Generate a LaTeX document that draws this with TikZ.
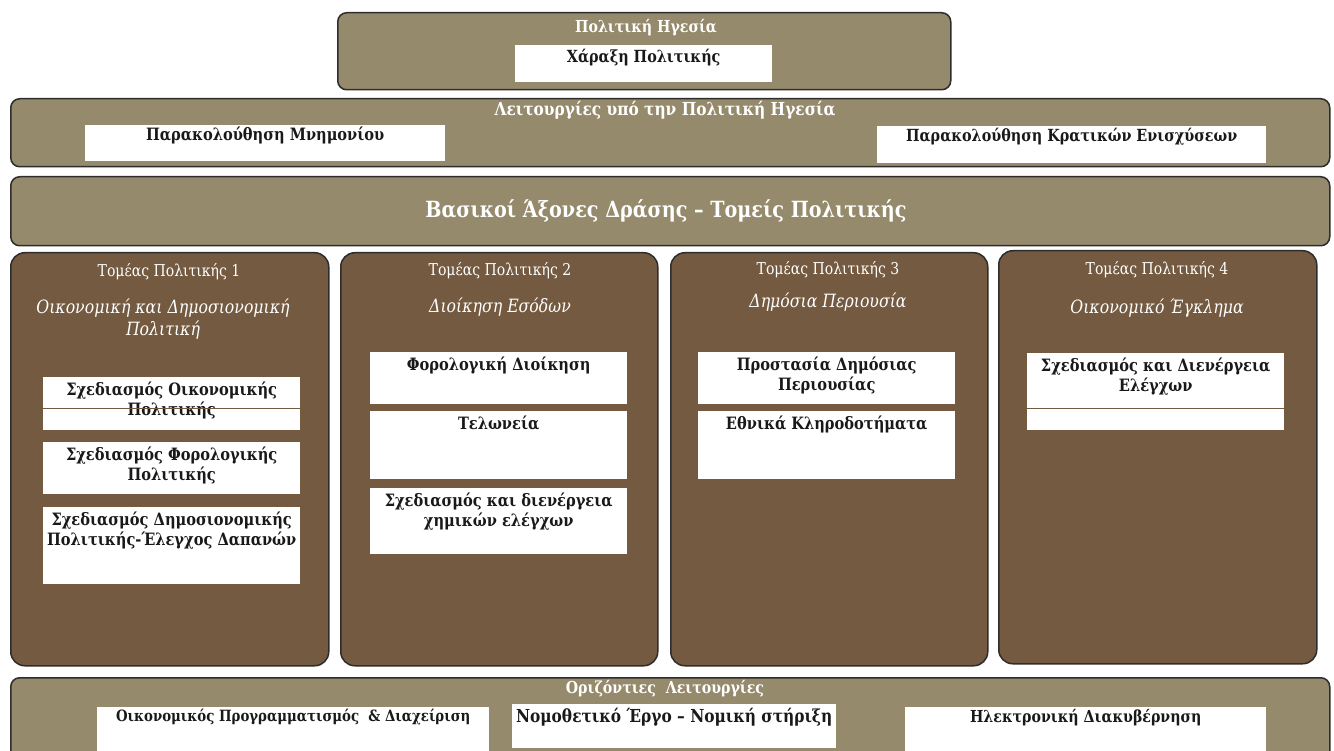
\documentclass[tikz,border=0pt]{standalone}
\usepackage{fontspec}
\setmainfont{DejaVu Serif}[FakeStretch=0.86]
\definecolor{light}{RGB}{150,138,108}
\definecolor{brownc}{RGB}{116,90,64}
\definecolor{edge}{RGB}{45,45,45}
\begin{document}
\begin{tikzpicture}[x=1pt,y=-1pt,
  panel/.style={draw=edge, line width=1.5pt, fill=light, rounded corners=9pt, anchor=north west, inner sep=0},
  sector/.style={draw=edge, line width=1.5pt, fill=brownc, rounded corners=14pt, anchor=north west, inner sep=0},
  wbox/.style={fill=white, anchor=north west, inner sep=0},
  wtitle/.style={text=white, font=\fontsize{14}{16}\selectfont\bfseries},
  bigtitle/.style={text=white, font=\fontsize{22.3}{25}\selectfont\bfseries},
  btxt/.style={text=black!90, align=center, anchor=north, inner sep=5pt, font=\fontsize{17}{19.5}\selectfont\bfseries},
  chead/.style={text=white, font=\fontsize{16.3}{18}\selectfont},
  cital/.style={text=white, align=center, font=\fontsize{18.3}{22}\selectfont\itshape},
  sepline/.style={draw=brownc, line width=1pt}]
\useasboundingbox (0,0) rectangle (1334,751);
\fill[white] (0,0) rectangle (1334,751);

% Top: political leadership
\node[panel, minimum width=613, minimum height=77] (lead) at (337,12) {};
\node[wtitle, font=\fontsize{16.5}{18}\selectfont\bfseries] (leadT) at (646,28) {Πολιτική Ηγεσία};
\node[wbox, minimum width=257, minimum height=37] (policy) at (515,45) {};
\node[btxt, inner sep=3.5pt, font=\fontsize{16.7}{19}\selectfont\bfseries] (policyT) at (policy.north) {Χάραξη Πολιτικής};

% Row 2
\node[panel, minimum width=1319, minimum height=68] (funcs) at (10,98) {};
\node[wtitle, font=\fontsize{17.9}{20}\selectfont\bfseries] (funcsT) at (665,110) {Λειτουργίες υπό την Πολιτική Ηγεσία};
\node[wbox, minimum width=360, minimum height=36] (mnim) at (85,125) {};
\node[btxt, inner sep=1.5pt] (mnimT) at (mnim.north) {Παρακολούθηση Μνημονίου};
\node[wbox, minimum width=389, minimum height=37] (kras) at (877,126) {};
\node[btxt, inner sep=1.5pt, font=\fontsize{16.7}{19}\selectfont\bfseries] (krasT) at (kras.north) {Παρακολούθηση Κρατικών Ενισχύσεων};

% Row 3
\node[panel, minimum width=1319, minimum height=69] (axes) at (10,176) {};
\node[bigtitle] (axesT) at (666,211) {Βασικοί Άξονες Δράσης – Τομείς Πολιτικής};

% Sector 1
\node[sector, minimum width=318, minimum height=413] (s1) at (10,252) {};
\node[chead] (s1h) at (169,272) {Τομέας Πολιτικής 1};
\node[cital] (s1i) at (163,319) {Οικονομική και Δημοσιονομική\\Πολιτική};
\node[wbox, minimum width=257, minimum height=53] (b11) at (43,377) {};
\coordinate (l1a) at (43,408);
\coordinate (l1b) at (300,408);
\node[btxt] (b11T) at (b11.north) {Σχεδιασμός Οικονομικής\\Πολιτικής};
\draw[sepline] (l1a) -- (l1b);
\node[wbox, minimum width=257, minimum height=52] (b12) at (43,442) {};
\node[btxt] (b12T) at (b12.north) {Σχεδιασμός Φορολογικής\\Πολιτικής};
\node[wbox, minimum width=257, minimum height=77] (b13) at (43,507) {};
\node[btxt] (b13T) at (b13.north) {Σχεδιασμός Δημοσιονομικής\\Πολιτικής-Έλεγχος Δαπανών};

% Sector 2
\node[sector, minimum width=317, minimum height=413] (s2) at (340,252) {};
\node[chead] (s2h) at (500,271) {Τομέας Πολιτικής 2};
\node[cital] (s2i) at (500,307) {Διοίκηση Εσόδων};
\node[wbox, minimum width=257, minimum height=52] (b21) at (370,352) {};
\node[btxt] (b21T) at (b21.north) {Φορολογική Διοίκηση};
\node[wbox, minimum width=257, minimum height=68] (b22) at (370,411) {};
\node[btxt] (b22T) at (b22.north) {Τελωνεία};
\node[wbox, minimum width=257, minimum height=66] (b23) at (370,488) {};
\node[btxt] (b23T) at (b23.north) {Σχεδιασμός και διενέργεια\\χημικών ελέγχων};

% Sector 3
\node[sector, minimum width=317, minimum height=413] (s3) at (670,252) {};
\node[chead] (s3h) at (828,270) {Τομέας Πολιτικής 3};
\node[cital] (s3i) at (828,302) {Δημόσια Περιουσία};
\node[wbox, minimum width=257, minimum height=52] (b31) at (698,352) {};
\node[btxt] (b31T) at (b31.north) {Προστασία Δημόσιας\\Περιουσίας};
\node[wbox, minimum width=257, minimum height=68] (b32) at (698,411) {};
\node[btxt] (b32T) at (b32.north) {Εθνικά Κληροδοτήματα};

% Sector 4
\node[sector, minimum width=318, minimum height=413] (s4) at (998,250) {};
\node[chead] (s4h) at (1157,270) {Τομέας Πολιτικής 4};
\node[cital] (s4i) at (1157,308) {Οικονομικό Έγκλημα};
\node[wbox, minimum width=257, minimum height=77] (b41) at (1027,353) {};
\coordinate (l4a) at (1027,408);
\coordinate (l4b) at (1284,408);
\node[btxt] (b41T) at (b41.north) {Σχεδιασμός και Διενέργεια\\Ελέγχων};
\draw[sepline] (l4a) -- (l4b);

% Bottom: horizontal functions
\node[panel, minimum width=1319, minimum height=85] (hor) at (10,677) {};
\node[wtitle, font=\fontsize{16.5}{18}\selectfont\bfseries] (horT) at (665,689) {Οριζόντιες\ \ Λειτουργίες};
\node[wbox, minimum width=392, minimum height=50] (h1) at (97,707) {};
\node[btxt, inner sep=2pt, font=\fontsize{15.5}{18}\selectfont\bfseries] (h1T) at (h1.north) {Οικονομικός Προγραμματισμός \ \& Διαχείριση};
\node[wbox, minimum width=324, minimum height=44] (h2) at (512,704) {};
\node[btxt, inner sep=3.5pt, font=\fontsize{17.9}{20}\selectfont\bfseries] (h2T) at (h2.north) {Νομοθετικό Έργο – Νομική στήριξη};
\node[wbox, minimum width=361, minimum height=50] (h3) at (905,707) {};
\node[btxt, inner sep=2.5pt, font=\fontsize{16.5}{19}\selectfont\bfseries] (h3T) at (h3.north) {Ηλεκτρονική Διακυβέρνηση};
\end{tikzpicture}
\end{document}
